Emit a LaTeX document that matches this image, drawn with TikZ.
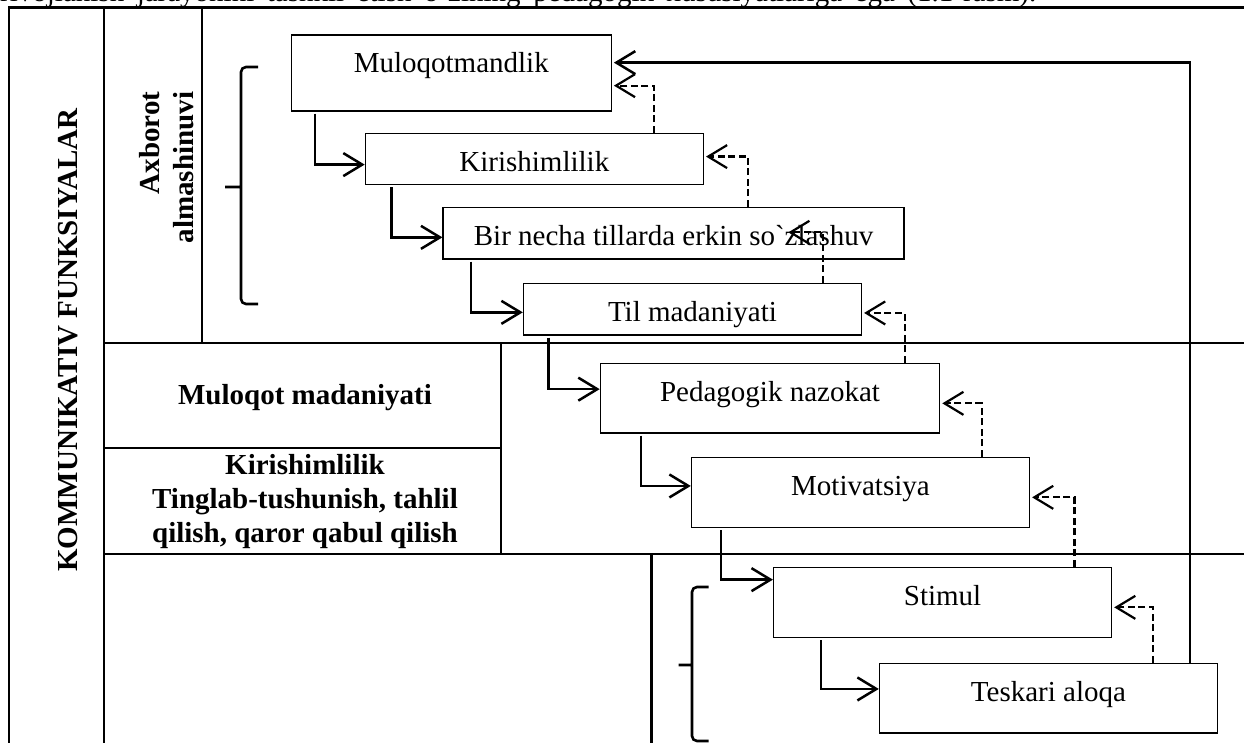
\documentclass[tikz,border=0pt]{standalone}
\usepackage{fontspec}
\setmainfont{Liberation Serif}[Ligatures=TeXOff]
\usetikzlibrary{arrows.meta, calc, positioning}

\tikzset{
    stage/.style={draw, line width=1.3pt, anchor=north west, inner sep=0pt, minimum width=338pt, text height=38pt, font=\fontsize{29}{35}\selectfont},
    flow/.style={line width=2.5pt, -{Straight Barb[length=19pt, width=23pt]}},
    back/.style={flow, line width=2.2pt, dash pattern=on 7pt off 3.5pt, shorten >=2pt},
    tabline/.style={line width=2.5pt},
    curly/.style={line width=2.6pt, rounded corners=5pt},
    cellhead/.style={font=\fontsize{29}{34}\selectfont\bfseries, align=center}
}

\begin{document}
\begin{tikzpicture}[x=1pt, y=-1pt]
                            \useasboundingbox (0, 0) rectangle (1244, 743);
                            \clip (0, 0) rectangle (1244, 743);

                            \node[anchor=base west, inner sep=0pt, font=\fontsize{29}{35}\selectfont] (intro) at (0, 1.5) {\makebox[1036pt][s]{rivojlanish jarayonini tashkil etish o`zining pedagogik xususiyatlariga ega (1.1-rasm).}};

                            \draw[tabline] (9, 750) -- (9, 7.5) -- (1250, 7.5);
                            \draw[tabline] (104, 7.5) -- (104, 750);
                            \draw[tabline] (202, 7.5) -- (202, 343);
                            \draw[tabline] (104, 343) -- (1250, 343);
                            \draw[tabline] (501, 343) -- (501, 554);
                            \draw[tabline] (104, 448) -- (501, 448);
                            \draw[tabline] (104, 554) -- (1250, 554);
                            \draw[tabline] (651.5, 554) -- (651.5, 750);

                            \node[cellhead, rotate=90] (kf) at (68, 340) {KOMMUNIKATIV FUNKSIYALAR};
                            \node[cellhead, rotate=90, align=right] (ax) at (167, 167.5) {Axborot\\almashinuvi};
                            \node[cellhead] (mm) at (305, 398) {Muloqot madaniyati};
                            \node[cellhead] (kt) at (305, 502) {Kirishimlilik\\Tinglab-tushunish, tahlil\\qilish, qaror qabul qilish};

                            \draw[curly] (258, 67) -- (241, 67) -- (241, 304) -- (258, 304) (241, 187) -- (225, 187);
                            \draw[curly] (708.5, 587) -- (692, 587) -- (692, 741) -- (708.5, 741) (692, 665) -- (678.5, 665);

                            \node[stage, minimum width=320pt, text depth=38pt] (mul) at (290.6, 34.3) {Muloqotmandlik};
                            \node[stage, text depth=13.3pt] (kir) at (364.7, 132.7) {Kirishimlilik};
                            \node[stage, minimum width=461pt, text depth=13.6pt] (bir) at (442.4, 206.7) {Bir necha tillarda erkin so`zlashuv};
                            \node[stage, text depth=13.6pt] (til) at (522.8, 282.7) {Til madaniyati};
                            \node[stage, minimum width=339.3pt, text depth=31.6pt] (ped) at (599.7, 362.7) {Pedagogik nazokat};
                            \node[stage, text depth=32pt] (mot) at (690.8, 456.7) {Motivatsiya};
                            \node[stage, text depth=32pt] (sti) at (772.9, 566.7) {Stimul};
                            \node[stage, text depth=31.6pt] (tes) at (878.8, 662.7) {Teskari aloqa};

                            \draw[flow, shorten <=2pt] ([xshift=24.4pt]mul.south west) |- ([yshift=-5.6pt]kir.west);
                            \draw[flow, shorten <=2pt] ([xshift=26.8pt]kir.south west) |- ([yshift=-4.2pt]bir.west);
                            \draw[flow, shorten <=2pt] ([xshift=28.6pt]bir.south west) |- ([yshift=-3.2pt]til.west);
                            \draw[flow, shorten <=2pt] ([xshift=25.7pt]til.south west) |- ([yshift=9pt]ped.west);
                            \draw[flow, shorten <=2pt] ([xshift=41.3pt]ped.south west) |- ([yshift=6.4pt]mot.west);
                            \draw[flow, shorten <=2pt] ([xshift=30.1pt]mot.south west) |- ([yshift=22.7pt]sti.west);
                            \draw[flow, shorten <=2pt] ([xshift=48.1pt]sti.south west) |- ([yshift=9.2pt]tes.west);

                            \draw[back] ([xshift=-50.2pt]kir.north east) |- ([yshift=-12.7pt]mul.east);
                            \draw[back] ([xshift=-156.6pt]bir.north east) |- ([yshift=2.4pt]kir.east);
                            \draw[back] ([xshift=-38.9pt]til.north east) |- ([xshift=-118.4pt, yshift=0.8pt]bir.east);
                            \draw[back] ([xshift=-35.6pt]ped.north east) |- ([yshift=-3.8pt]til.east);
                            \draw[back] ([xshift=-48.5pt]mot.north east) |- ([yshift=-5.2pt]ped.east);
                            \draw[back] ([xshift=-37.7pt]sti.north east) |- ([yshift=-5pt]mot.east);
                            \draw[back] ([xshift=-65.4pt]tes.north east) |- ([yshift=-5pt]sti.east);

                            \draw[flow, shorten >=2pt] ([xshift=-28pt]tes.north east) |- ([yshift=10.3pt]mul.east);
                        \end{tikzpicture}
\end{document}
